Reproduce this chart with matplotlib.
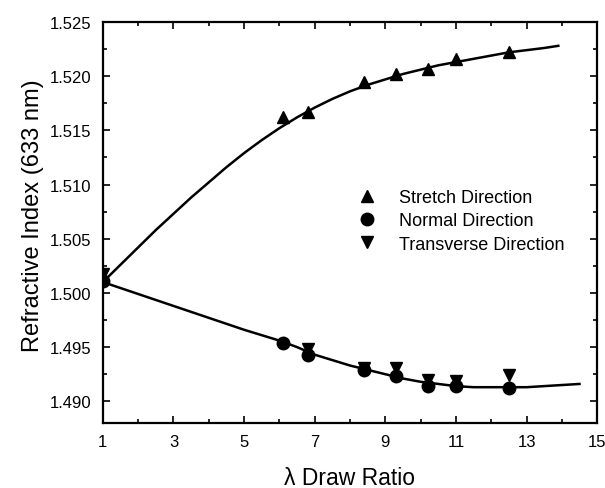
import matplotlib
matplotlib.use("Agg")
import matplotlib.pyplot as plt
from matplotlib.ticker import FixedLocator, MultipleLocator, FormatStrFormatter

plt.rcParams["font.family"] = ["Liberation Sans", "DejaVu Sans"]

# measured points
stretch_x = [1.0, 6.1, 6.8, 8.4, 9.3, 10.2, 11.0, 12.5]
stretch_y = [1.5015, 1.5162, 1.5167, 1.5195, 1.5202, 1.5207, 1.5216, 1.5222]
normal_x = [1.0, 6.1, 6.8, 8.4, 9.3, 10.2, 11.0, 12.5]
normal_y = [1.5011, 1.4954, 1.4943, 1.4929, 1.4923, 1.4914, 1.4914, 1.4912]
transverse_x = [1.0, 6.8, 8.4, 9.3, 10.2, 11.0, 12.5]
transverse_y = [1.5017, 1.4948, 1.4931, 1.4931, 1.4920, 1.4919, 1.4924]

# fitted curves
fit_up_x = [1.0, 1.5, 2.0, 2.5, 3.0, 3.5, 4.0, 4.5, 5.0, 5.5, 6.0, 6.5, 7.0, 7.5,
            8.0, 8.5, 9.0, 9.5, 10.0, 10.5, 11.0, 11.5, 12.0, 12.5, 13.0, 13.5, 13.9]
fit_up_y = [1.5010, 1.5026, 1.5042, 1.5058, 1.5073, 1.5088, 1.5102, 1.5116, 1.5129,
            1.5141, 1.5152, 1.5162, 1.5171, 1.5179, 1.5186, 1.5192, 1.5197, 1.5202,
            1.5206, 1.5210, 1.5213, 1.5216, 1.5219, 1.5222, 1.5224, 1.5226, 1.5228]
fit_down_x = [1.0, 2.0, 3.0, 4.0, 5.0, 6.0, 6.5, 7.0, 7.5, 8.0, 8.5, 9.0, 9.5, 10.0,
              10.5, 11.0, 11.5, 12.0, 12.5, 13.0, 13.5, 14.0, 14.5]
fit_down_y = [1.5010, 1.4999, 1.4988, 1.4977, 1.4966, 1.4956, 1.4950, 1.4943, 1.4938,
              1.4933, 1.4929, 1.4925, 1.4921, 1.4918, 1.4916, 1.4914, 1.4913, 1.4913,
              1.4913, 1.4913, 1.4914, 1.4915, 1.4916]

x_ticks = [1, 3, 5, 7, 9, 11, 13, 15]

fig = plt.figure(figsize=(6.05, 4.89), dpi=100)
ax = fig.add_axes([0.170, 0.133, 0.817, 0.820])

ax.plot(fit_up_x, fit_up_y, color="black", linewidth=1.8, solid_joinstyle="round")
ax.plot(fit_down_x, fit_down_y, color="black", linewidth=1.8, solid_joinstyle="round")
ax.plot(stretch_x, stretch_y, "^", color="black", markersize=9, linestyle="none", label="Stretch Direction")
ax.plot(normal_x, normal_y, "o", color="black", markersize=9, linestyle="none", label="Normal Direction")
ax.plot(transverse_x, transverse_y, "v", color="black", markersize=9, linestyle="none", label="Transverse Direction")

ax.set_xlim(1, 15)
ax.set_ylim(1.488, 1.525)
ax.xaxis.set_major_locator(FixedLocator(x_ticks))
ax.xaxis.set_minor_locator(MultipleLocator(1))
ax.yaxis.set_major_locator(MultipleLocator(0.005))
ax.yaxis.set_minor_locator(MultipleLocator(0.0025))
ax.yaxis.set_major_formatter(FormatStrFormatter("%.3f"))
ax.tick_params(which="both", direction="in", top=True, right=True, width=1.2, labelsize=12, pad=8)
ax.tick_params(which="major", length=5)
ax.tick_params(which="minor", length=3)
for spine in ax.spines.values():
    spine.set_linewidth(1.6)

ax.set_xlabel("λ Draw Ratio", fontsize=16.5, labelpad=12)
ax.set_ylabel("Refractive Index (633 nm)", fontsize=17)
ax.yaxis.set_label_coords(-0.119, 0.52)

ax.legend(loc="center left", bbox_to_anchor=(0.474, 0.504), frameon=False, fontsize=13,
          handletextpad=1.0, labelspacing=0.35, handlelength=1.5)

fig.savefig("out.png", dpi=100)
